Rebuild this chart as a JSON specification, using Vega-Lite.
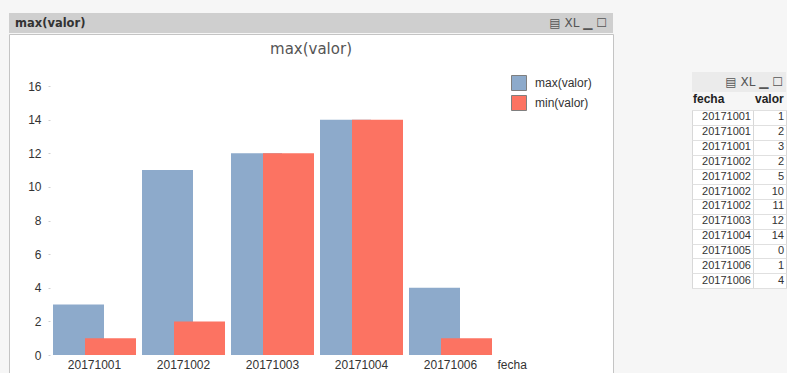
{
  "$schema": "https://vega.github.io/schema/vega-lite/v6.json",
  "background": "#f6f6f6",
  "padding": {"left": 8, "top": 13, "right": 0, "bottom": 0},
  "config": {"view": {"stroke": null}, "font": "Liberation Sans"},
  "datasets": {
    "filas": [
      {"fecha": "20171001", "valor": 1},
      {"fecha": "20171001", "valor": 2},
      {"fecha": "20171001", "valor": 3},
      {"fecha": "20171002", "valor": 2},
      {"fecha": "20171002", "valor": 5},
      {"fecha": "20171002", "valor": 10},
      {"fecha": "20171002", "valor": 11},
      {"fecha": "20171003", "valor": 12},
      {"fecha": "20171004", "valor": 14},
      {"fecha": "20171005", "valor": 0},
      {"fecha": "20171006", "valor": 1},
      {"fecha": "20171006", "valor": 4}
    ]
  },
  "spacing": 77,
  "hconcat": [
    {
      "spacing": 0,
      "vconcat": [
        {
          "width": 604,
          "height": 20,
          "view": {"fill": "#cfcfcf", "stroke": null},
          "title": {"text": "max(valor)", "anchor": "start", "frame": "group", "font": "DejaVu Sans", "fontSize": 11.5, "fontWeight": "bold", "color": "#333333", "offset": -25.5, "baseline": "alphabetic", "dx": 6},
          "data": {"values": [{"iconos": "▤ XL ▁ ☐"}]},
          "mark": {"type": "text", "align": "right", "baseline": "middle", "dx": -6, "font": "DejaVu Sans", "fontSize": 12, "color": "#555555"},
          "encoding": {"text": {"field": "iconos"}, "x": {"value": "width"}}
        },
        {
          "width": 604,
          "height": 339,
          "view": {"fill": "white", "stroke": "#c4c4c4"},
          "title": {"text": "max(valor)", "anchor": "middle", "frame": "group", "font": "DejaVu Sans", "fontSize": 15, "fontWeight": "normal", "color": "#555555", "offset": -35.3, "baseline": "alphabetic"},
          "data": {"name": "filas"},
          "transform": [
            {"aggregate": [{"op": "max", "field": "valor", "as": "maximo"}, {"op": "min", "field": "valor", "as": "minimo"}], "groupby": ["fecha"]},
            {"filter": "datum.maximo != 0"}
          ],
          "encoding": {
            "x": {
              "field": "fecha", "type": "nominal", "sort": "ascending",
              "scale": {"paddingInner": 0, "paddingOuter": 0.8933, "align": 0.2579},
              "axis": {"labelAngle": 0, "domain": false, "ticks": false, "offset": -18, "labelPadding": 4, "labelFontSize": 12, "labelColor": "#333333", "labelFont": "Liberation Sans",
                "title": "fecha", "titleX": 488, "titleY": 4, "titleAlign": "left", "titleBaseline": "top", "titleFontSize": 12, "titleFontWeight": "normal", "titleColor": "#333333", "titleFont": "Liberation Sans"}
            }
          },
          "layer": [
            {
              "mark": {"type": "bar", "width": {"band": 0.573}, "xOffset": -16},
              "encoding": {
                "y": {"field": "maximo", "type": "quantitative",
                  "scale": {"domain": [-1.0706, 19.093], "zero": false, "nice": false},
                  "axis": {"values": [0, 2, 4, 6, 8, 10, 12, 14, 16], "offset": -41, "domain": false, "ticks": true, "tickSize": 2, "tickColor": "#d0d0d0", "grid": false, "labelPadding": 7, "labelFontSize": 12, "labelColor": "#333333", "labelFont": "Liberation Sans", "title": null}},
                "color": {"datum": "max(valor)", "type": "nominal",
                  "scale": {"domain": ["max(valor)", "min(valor)"], "range": ["#8DAACB", "#FC7362"]},
                  "legend": {"orient": "none", "legendX": 502, "legendY": 62, "title": null, "symbolType": "square", "symbolSize": 225, "symbolStrokeColor": "#7f7f7f", "symbolStrokeWidth": 1, "symbolOpacity": 1, "labelFontSize": 12, "labelColor": "#333333", "labelFont": "Liberation Sans", "labelOffset": 8, "rowPadding": 0, "padding": 0}}
              }
            },
            {
              "mark": {"type": "bar", "width": {"band": 0.573}, "xOffset": 16},
              "encoding": {
                "y": {"field": "minimo", "type": "quantitative"},
                "color": {"datum": "min(valor)", "type": "nominal"}
              }
            }
          ]
        }
      ]
    },
    {
      "spacing": 0,
      "vconcat": [
        {
          "width": 94,
          "height": 59,
          "data": {"values": []},
          "mark": {"type": "text"},
          "encoding": {}
        },
        {
          "width": 94,
          "height": 20,
          "view": {"fill": "#ebebeb", "stroke": null},
          "data": {"values": [{"iconos": "▤ XL ▁ ☐"}]},
          "mark": {"type": "text", "align": "right", "baseline": "middle", "dx": -3, "font": "DejaVu Sans", "fontSize": 12, "color": "#555555"},
          "encoding": {"text": {"field": "iconos"}, "x": {"value": "width"}}
        },
        {
          "spacing": 0,
          "bounds": "flush",
          "hconcat": [
            {
              "width": 61,
              "height": 178,
              "view": {"fill": "white", "stroke": "#d8d8d8"},
              "title": {"text": "fecha", "anchor": "start", "frame": "group", "font": "Liberation Sans", "fontSize": 12, "fontWeight": "bold", "color": "#222222", "offset": 3.6, "dx": 1},
              "data": {"name": "filas"},
              "transform": [{"window": [{"op": "row_number", "as": "fila"}]}],
              "mark": {"type": "text", "align": "right", "baseline": "middle", "dx": -2, "font": "Liberation Sans", "fontSize": 11, "color": "#333333"},
              "encoding": {
                "y": {"field": "fila", "type": "ordinal", "axis": {"grid": true, "tickBand": "extent", "labels": false, "ticks": false, "domain": false, "title": null, "gridColor": "#e0e0e0"}},
                "x": {"value": "width"},
                "text": {"field": "fecha"}
              }
            },
            {
              "width": 33,
              "height": 178,
              "view": {"fill": "white", "stroke": "#d8d8d8"},
              "title": {"text": "valor", "anchor": "start", "frame": "group", "font": "Liberation Sans", "fontSize": 12, "fontWeight": "bold", "color": "#222222", "offset": 3.6, "dx": 2},
              "data": {"name": "filas"},
              "transform": [{"window": [{"op": "row_number", "as": "fila"}]}],
              "mark": {"type": "text", "align": "right", "baseline": "middle", "dx": -2, "font": "Liberation Sans", "fontSize": 11, "color": "#333333"},
              "encoding": {
                "y": {"field": "fila", "type": "ordinal", "axis": {"grid": true, "tickBand": "extent", "labels": false, "ticks": false, "domain": false, "title": null, "gridColor": "#e0e0e0"}},
                "x": {"value": "width"},
                "text": {"field": "valor"}
              }
            }
          ]
        }
      ]
    }
  ]
}
